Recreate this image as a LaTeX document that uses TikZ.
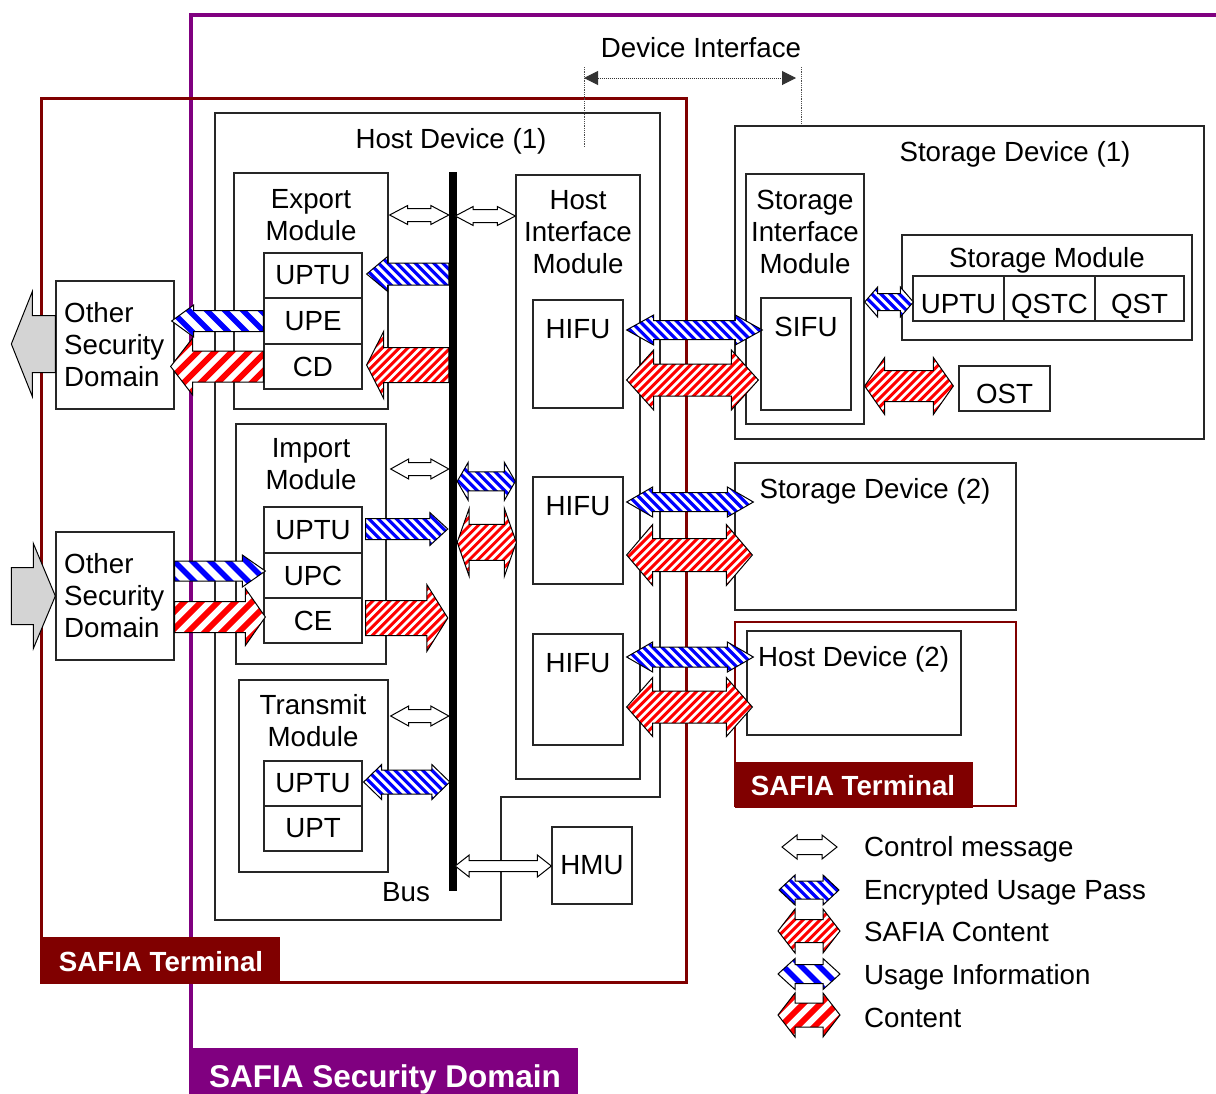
\documentclass[tikz,border=0pt]{standalone}
\usepackage{fontspec}
\setmainfont{Liberation Sans}
\usetikzlibrary{fit,calc,arrows.meta}
\definecolor{dred}{HTML}{800000}
\definecolor{purp}{HTML}{800080}
\newcommand\fs{\fontsize{27.7}{32}\selectfont}
% box node from corners: [opts]{name}{x1}{y1}{x2}{y2}{text}
\newcommand\bx[7][]{\node[box,#1,minimum width={(#5)-(#3)}, minimum height={(#6)-(#4)}] (#2) at ({((#3)+(#5))/2},{((#4)+(#6))/2}) {#7};}
% double block arrow: style, left point, right point (x only), shaft half, head half, head length
\newcommand\blockdbl[6]{%
  \path[#1] let \p1=#2, \p2=#3 in
   (\x1,\y1) -- ({\x1+#6pt},{\y1+#5pt}) -- ({\x1+#6pt},{\y1+#4pt}) -- ({\x2-#6pt},{\y1+#4pt})
   -- ({\x2-#6pt},{\y1+#5pt}) -- (\x2,\y1) -- ({\x2-#6pt},{\y1-#5pt}) -- ({\x2-#6pt},{\y1-#4pt})
   -- ({\x1+#6pt},{\y1-#4pt}) -- ({\x1+#6pt},{\y1-#5pt}) -- cycle;}
% single block arrow: style, tail (x only), tip, shaft half, head half, head length
\newcommand\blocksgl[6]{%
  \path[#1] let \p1=#2, \p2=#3, \n1={ifthenelse(\x2>\x1,1,-1)} in
   (\x1,{\y2+#4pt}) -- ({\x2-(\n1)*#6pt},{\y2+#4pt}) -- ({\x2-(\n1)*#6pt},{\y2+#5pt}) -- (\x2,\y2)
   -- ({\x2-(\n1)*#6pt},{\y2-#5pt}) -- ({\x2-(\n1)*#6pt},{\y2-#4pt}) -- (\x1,{\y2-#4pt}) -- cycle;}
\tikzset{
  every node/.style={font=\fs, inner sep=0pt},
  box/.style={draw=black!85, line width=1.3pt, fill=white},
  low/.style={text height=29pt, text depth=0pt},
  ctl/.style={draw=black, line width=1pt, fill=white},
  bstripes/.style 2 args={path picture={\foreach \i in {-20,...,20}
     \draw[blue, line width=#2pt] ($(path picture bounding box.center)+(\i*#1-70,-70)$) -- ++(140,140);}},
  rstripes/.style 2 args={path picture={\foreach \i in {-20,...,20}
     \draw[red, line width=#2pt] ($(path picture bounding box.center)+(\i*#1-70,70)$) -- ++(140,-140);}},
  eup/.style={draw=black, line width=1pt, fill=white, bstripes={9.2}{3.2}},
  sc/.style={draw=black, line width=1pt, fill=white, rstripes={8.5}{2.9}},
  ui/.style={draw=black, line width=1pt, fill=white, bstripes={18}{5.5}},
  ct/.style={draw=black, line width=1pt, fill=white, rstripes={17}{5.8}},
  gry/.style={draw=black, line width=1pt, fill=black!17},
  tag/.style={anchor=north west},
  tagtext/.style={text=white, font=\fs\bfseries},
}
\begin{document}
\begin{tikzpicture}[x=1pt,y=-1pt]
\useasboundingbox[fill=white] (0,0) rectangle (1216,1093);
% frames
\draw[purp, line width=3.5pt] (191,1050) -- (191,15) -- (1220,15);
\draw[dred, line width=3pt] (41,98) rectangle (686,982);
\draw[dred, line width=2.5pt] (735,622) rectangle (1016,806);
% device interface
\draw[black!70, densely dotted, line width=0.8pt] (584,67) -- (584,147);
\draw[black!70, densely dotted, line width=0.8pt] (801,67) -- (801,128);
\coordinate (diL) at (584,78);
\coordinate (diR) at (796,78);
\draw[black!80, densely dotted, line width=1pt, {Triangle[length=14pt,width=14pt]}-{Triangle[length=14pt,width=14pt]}] (diL) -- (diR);
\node[anchor=base] (diT) at (701,57) {Device Interface};
% host device 1
\draw[black!85, line width=1.3pt] (215,113) -- (660,113) -- (660,797) -- (501,797) -- (501,920) -- (215,920) -- cycle;
\node[anchor=base] (hd1T) at (451,148) {Host Device (1)};
% other security domains
\bx{osd1}{56}{281}{174}{409}{}
\bx{osd2}{56}{532}{174}{660}{}
\node[anchor=west, align=left] (osd1T) at (64,345) {Other\\Security\\Domain};
\node[anchor=west, align=left] (osd2T) at (64,596) {Other\\Security\\Domain};
% export
\bx{exp}{234}{173}{388}{409}{}
\node[align=center] (expT) at (311,215) {Export\\Module};
\bx{expUPTU}{264}{253}{362}{298}{UPTU}
\bx{expUPE}{264}{298}{362}{344}{UPE}
\bx{expCD}{264}{344}{362}{389}{CD}
% import
\bx{imp}{236}{424}{386}{664}{}
\node[align=center] (impT) at (311,464.5) {Import\\Module};
\bx{impUPTU}{264}{507}{362}{553}{UPTU}
\bx{impUPC}{264}{553}{362}{598}{UPC}
\bx{impCE}{264}{598}{362}{643}{CE}
% transmit
\bx{trn}{239}{680}{388}{872}{}
\node[align=center] (trnT) at (313,720.5) {Transmit\\Module};
\bx{trnUPTU}{264}{761}{362}{806}{UPTU}
\bx{trnUPT}{264}{806}{362}{851}{UPT}
% bus
\node[fill=black, minimum width=8pt, minimum height=719pt] (bus) at (453,531.5) {};
\node[anchor=base] (busT) at (406,901) {Bus};
% host interface module
\bx{him}{516}{175}{640}{779}{}
\node[align=center] (himT) at (578,232) {Host\\Interface\\Module};
\bx{hifu1}{533}{300}{623}{408}{}
\bx{hifu2}{533}{477}{623}{584}{}
\bx{hifu3}{533}{634}{623}{745}{}
\node[anchor=base] (hifu1T) at (578,338) {HIFU};
\node[anchor=base] (hifu2T) at (578,515) {HIFU};
\node[anchor=base] (hifu3T) at (578,672) {HIFU};
\bx{hmu}{552}{827}{632}{904}{HMU}
% storage device 1
\bx{sd1}{735}{126}{1204}{439}{}
\node[anchor=base] (sd1T) at (1015,161) {Storage Device (1)};
\bx{sim}{746}{174}{864}{424}{}
\node[align=center] (simT) at (805,232) {Storage\\Interface\\Module};
\bx{sifu}{761}{298}{851}{410}{}
\node[anchor=base] (sifuT) at (806,336) {SIFU};
\bx{smod}{902}{235}{1192}{340}{}
\node[anchor=base] (smodT) at (1047,267) {Storage Module};
\bx[low]{smUPTU}{913}{276}{1004}{321}{UPTU}
\bx[low]{smQSTC}{1004}{276}{1095}{321}{QSTC}
\bx[low]{smQST}{1095}{276}{1184}{321}{QST}
\bx[low]{ost}{959}{366}{1050}{411}{OST}
% storage device 2, host device 2
\bx{sd2}{735}{463}{1016}{610}{}
\node[anchor=base] (sd2T) at (875,498) {Storage Device (2)};
\bx{hd2}{747}{631}{961}{735}{}
\node[anchor=base west] (hd2T) at (758,666) {Host Device (2)};
% ---------- arrows ----------
\blocksgl{gry}{(osd1.west)}{($(osd1.west)+(-44,-1)$)}{28.5}{52.5}{21}
\blocksgl{gry}{($(osd2.west)+(-44,0)$)}{(osd2.west)}{28.5}{52.5}{22}
\blocksgl{ui}{(expUPE.west)}{($(osd1.east |- expUPE.west)+(-3,0)$)}{10.5}{16}{22}
\blocksgl{ct}{(expCD.west)}{($(osd1.east |- expCD.west)+(-4,0)$)}{15.5}{28.5}{22}
\blocksgl{ui}{(osd2.east)}{($(impUPC.west)+(2,-4.5)$)}{10}{16}{23}
\blocksgl{ct}{(osd2.east)}{($(impCE.west)+(2,-3.5)$)}{15.5}{28.5}{20}
\blocksgl{eup}{(bus.west)}{($(expUPTU.east)+(4,-1.5)$)}{11}{17.5}{21}
\blocksgl{sc}{(bus.west)}{($(expCD.east)+(4,-1.5)$)}{17.5}{33.5}{17}
\blocksgl{eup}{($(impUPTU.east)+(3,0)$)}{($(bus.west |- impUPTU.east)+(-1,-1)$)}{10.5}{16.5}{18}
\blocksgl{sc}{($(impCE.east)+(3,0)$)}{($(bus.west |- impCE.east)+(-1,-2.5)$)}{17.5}{33.5}{21}
\blockdbl{eup}{($(trnUPTU.east)+(1,-1.5)$)}{($(bus.west)+(1,0)$)}{12}{17.5}{18}
% control messages
\blockdbl{ctl}{($(exp.east |- expT)+(1,0)$)}{(bus.west)}{6.5}{9.5}{18}
\blockdbl{ctl}{($(bus.east |- expT)+(-2,1)$)}{(him.west)}{6.5}{9.5}{18}
\blockdbl{ctl}{($(imp.east |- impT)+(4,4.5)$)}{(bus.west)}{6.5}{10}{18}
\blockdbl{ctl}{($(trn.east |- trnT)+(2,-4.5)$)}{(bus.west)}{6.5}{10}{18}
\blockdbl{ctl}{($(bus.east |- hmu.west)+(-2,0.5)$)}{(hmu.west)}{5.5}{11}{14}
% bus to host interface module
\blockdbl{eup}{($(bus.east |- hifu2.north)+(0,5)$)}{(him.west)}{9.5}{19}{11}
\blockdbl{sc}{($(bus.east |- hifu2.north)+(0,66)$)}{($(him.west)+(1,0)$)}{18}{34}{12}
% HIFU links
\blockdbl{eup}{($(hifu1.east)+(3,-24)$)}{($(sifu.west)+(2,0)$)}{9.5}{15}{27}
\blockdbl{sc}{($(hifu1.east)+(3,26)$)}{($(sifu.west)+(-2,0)$)}{16}{30}{27}
\blockdbl{eup}{($(hifu2.east)+(3,-28.5)$)}{($(sd2.west)+(19,0)$)}{9.5}{15}{26}
\blockdbl{sc}{($(hifu2.east)+(3,24.5)$)}{($(sd2.west)+(18,0)$)}{16.5}{30.5}{26}
\blockdbl{eup}{($(hifu3.east)+(3,-32.5)$)}{($(hd2.west)+(7,0)$)}{10}{15}{26}
\blockdbl{sc}{($(hifu3.east)+(3,17.5)$)}{($(hd2.west)+(6,0)$)}{16}{29.5}{26}
% storage device internal
\blockdbl{eup}{($(sim.east |- smUPTU.west)+(0,3.5)$)}{($(smUPTU.west)+(1,0)$)}{8.5}{15}{13}
\blockdbl{sc}{($(sim.east |- ost.west)+(0,-2.5)$)}{($(ost.west)+(-5,0)$)}{15.5}{28.5}{20}
% ---------- tags ----------
\node[tag, fill=dred, minimum width=239pt, minimum height=47pt] (tag1) at (41,937) {};
\node[tagtext, anchor=base] (tag1T) at (161,971) {SAFIA Terminal};
\node[tag, fill=dred, minimum width=238pt, minimum height=46pt] (tag2) at (735,762) {};
\node[tagtext, anchor=base] (tag2T) at (853,795) {SAFIA Terminal};
\node[tag, fill=purp, minimum width=389pt, minimum height=46pt] (tag3) at (189,1048) {};
\node[tagtext, font=\fontsize{31.5}{36}\selectfont\bfseries, anchor=base] (tag3T) at (385,1087) {SAFIA Security Domain};
% ---------- legend ----------
\coordinate (l1a) at (782,847); \coordinate (l1b) at (837,847);
\coordinate (l2a) at (779,890); \coordinate (l2b) at (839,890);
\coordinate (l3a) at (778,931); \coordinate (l3b) at (840,931);
\coordinate (l4a) at (778,974); \coordinate (l4b) at (840,974);
\coordinate (l5a) at (778,1015); \coordinate (l5b) at (840,1015);
\blockdbl{ctl}{(l1a)}{(l1b)}{7.5}{12}{15}
\blockdbl{eup}{(l2a)}{(l2b)}{9}{15}{16}
\blockdbl{sc}{(l3a)}{(l3b)}{11.5}{22}{17}
\blockdbl{ui}{(l4a)}{(l4b)}{9.5}{15.5}{17}
\blockdbl{ct}{(l5a)}{(l5b)}{12}{22}{17}
\node[anchor=base west] (lt1) at (864,856) {Control message};
\node[anchor=base west] (lt2) at (864,899) {Encrypted Usage Pass};
\node[anchor=base west] (lt3) at (864,941) {SAFIA Content};
\node[anchor=base west] (lt4) at (864,984) {Usage Information};
\node[anchor=base west] (lt5) at (864,1027) {Content};
\end{tikzpicture}
\end{document}
